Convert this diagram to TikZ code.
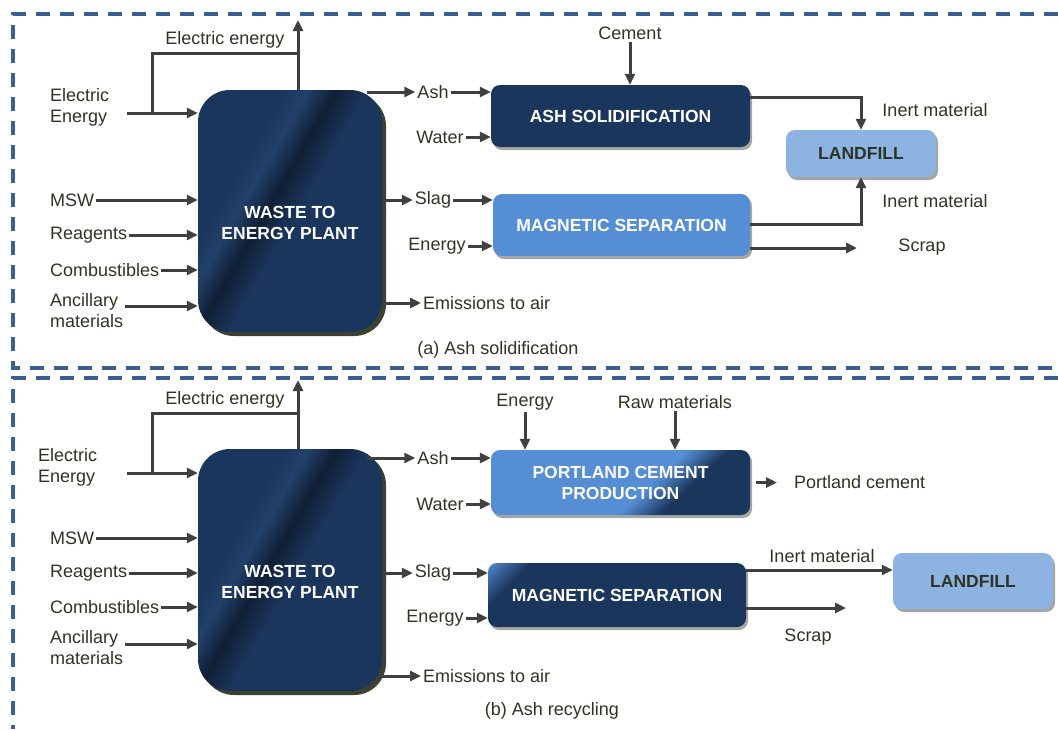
\documentclass[tikz,border=0pt]{standalone}
\usepackage{fontspec}
\setmainfont{Liberation Sans}
\usetikzlibrary{positioning}
\usetikzlibrary{arrows.meta}
\usetikzlibrary{shadows}

\definecolor{navy}{RGB}{27,54,93}
\definecolor{navydeep}{RGB}{16,31,54}
\definecolor{navylite}{RGB}{34,64,106}
\definecolor{midblue}{RGB}{85,142,213}
\definecolor{paleblue}{RGB}{141,179,226}
\definecolor{inktext}{RGB}{45,52,36}
\definecolor{inkline}{RGB}{64,64,64}
\definecolor{panelblue}{RGB}{60,95,145}
\definecolor{shadowolive}{RGB}{40,44,25}

\pgfdeclarehorizontalshading{wtesheen}{100bp}{color(0bp)=(navy); color(34bp)=(navy); color(39bp)=(navylite); color(45bp)=(navydeep); color(52bp)=(navy); color(100bp)=(navy)}
\pgfdeclarehorizontalshading{portsheen}{100bp}{color(0bp)=(midblue); color(57bp)=(midblue); color(66bp)=(navy); color(100bp)=(navy)}
\pgfdeclarehorizontalshading{magsheen}{100bp}{color(0bp)=(midblue); color(14bp)=(midblue); color(24bp)=(navy); color(100bp)=(navy)}

\begin{document}
\begin{tikzpicture}[
            x = 1pt, y = -1pt, % pixel grid, y downwards
            > = {Triangle[length=11pt,width=10pt]}, % arrow head style
            font = \fontsize{18}{21}\selectfont,
            text = inktext
        ]

        \tikzstyle{txt}=[inner sep=2pt, align=left]
        \tikzstyle{flow}=[draw=inkline, line width=3pt, ->]
        \tikzstyle{wire}=[draw=inkline, line width=3pt]
        \tikzstyle{procbox}=[
            rounded corners=9pt,
            inner sep=0pt,
            text=white,
            align=center,
            font=\fontsize{17.5}{21}\selectfont\bfseries,
            drop shadow={shadow xshift=2pt, shadow yshift=-3pt, fill=black, opacity=0.35}
        ]
        \tikzstyle{plant}=[
            rounded corners=32pt,
            inner sep=0pt,
            text=white,
            align=center,
            font=\fontsize{17.5}{21}\selectfont\bfseries,
            text height=58pt,
            minimum width=184pt, minimum height=242pt,
            shading=wtesheen, shading angle=-30,
            drop shadow={shadow xshift=4pt, shadow yshift=-4pt, fill=shadowolive, opacity=0.9}
        ]
        \tikzstyle{panel}=[draw=panelblue, line width=4pt, dash pattern=on 14pt off 10pt]

        \useasboundingbox (0,0) rectangle (1058,729);

	% panel frames
        \draw[panel] (1058,14) -- (13,14) -- (13,368) -- (1058,368);
        \draw[panel] (1058,378) -- (13,378) -- (13,729);

	% (a) ash solidification: units
        \node[plant] (wteA) at (290,211) {WASTE TO\\ENERGY PLANT};
        \node[procbox, fill=navy, minimum width=259pt, minimum height=62pt] (solA) at (620.5,116) {ASH SOLIDIFICATION};
        \node[procbox, fill=midblue, minimum width=257pt, minimum height=62pt] (magA) at (621.5,225) {MAGNETIC SEPARATION};
        \node[procbox, fill=paleblue, text=inktext, minimum width=150pt, minimum height=47pt] (fillA) at (861,153.5) {LANDFILL};

	% (a) inputs
        \node[txt] (elecA) [anchor=west] at (48,107) {Electric\\Energy};
        \node[txt] (mswA) [anchor=west] at (48,200) {MSW};
        \node[txt] (reagA) [anchor=west] at (48,235) {Reagents};
        \node[txt] (combA) [anchor=west] at (48,270) {Combustibles};
        \node[txt] (ancA) [anchor=west] at (48,311) {Ancillary\\materials};

        \coordinate (jA) at (152,113);
        \coordinate (kA) at (298,53);
        \coordinate (eoA) at (298,20);
        \draw[flow] ([xshift=-25pt]jA) -- (jA -| wteA.west);
        \draw[wire] (jA) |- (kA);
        \draw[flow] (kA |- wteA.north) -- (eoA);
        \node[txt] (outA) at (225,40) {Electric energy};

        \draw[flow] (mswA.east) -- (mswA.east -| wteA.west);
        \draw[flow] (reagA.east) -- (reagA.east -| wteA.west);
        \draw[flow] (combA.east) -- (combA.east -| wteA.west);
        \draw[flow] ([yshift=5pt]ancA.east) -- ([yshift=5pt]ancA.east -| wteA.west);

	% (a) outputs
        \node[txt] (ashA) at (433,92) {Ash};
        \node[txt] (waterA) at (440,137) {Water};
        \node[txt] (slagA) at (433,200) {Slag};
        \node[txt] (enA) at (437,246) {Energy};
        \node[txt] (emisA) [anchor=west] at (421,303) {Emissions to air};
        \node[txt] (cemA) at (630,33) {Cement};

        \draw[flow] ([xshift=-15pt]wteA.east |- ashA.west) -- (ashA.west);
        \draw[flow] (ashA.east) -- (ashA.east -| solA.west);
        \draw[flow] (waterA.east) -- (waterA.east -| solA.west);
        \draw[flow] (wteA.east |- slagA.west) -- (slagA.west);
        \draw[flow] (slagA.east) -- (slagA.east -| magA.west);
        \draw[flow] (enA.east) -- (enA.east -| magA.west);
        \draw[flow] (wteA.east |- emisA.west) -- (emisA.west);
        \draw[flow] (cemA.south) -- (cemA.south |- solA.north);

        \node[txt] (inA1) at (935,110) {Inert material};
        \node[txt] (inA2) at (935,201) {Inert material};
        \node[txt] (scrapA) at (922,247) {Scrap};
        \coordinate (scrapendA) at (857,248);

        \draw[flow] ([yshift=19pt]solA.east) -| (fillA.north);
        \draw[flow] ([yshift=1pt]magA.east) -| (fillA.south);
        \draw[flow] (magA.east |- scrapendA) -- (scrapendA);

        \node (capA) at (498,350) {(a) Ash solidification};

	% (b) ash recycling: units
        \node[plant] (wteB) at (290,570) {WASTE TO\\ENERGY PLANT};
        \node[procbox, shading=portsheen, shading angle=-47, minimum width=259pt, minimum height=65pt] (portB) at (620.5,482.5) {PORTLAND CEMENT\\PRODUCTION};
        \node[procbox, shading=magsheen, shading angle=-45, minimum width=258pt, minimum height=64pt] (magB) at (617,595) {MAGNETIC SEPARATION};
        \node[procbox, fill=paleblue, text=inktext, minimum width=160pt, minimum height=56pt] (fillB) at (973,581) {LANDFILL};

	% (b) inputs
        \node[txt] (elecB) [anchor=west] at (36,467) {Electric\\Energy};
        \node[txt] (mswB) [anchor=west] at (48,538) {MSW};
        \node[txt] (reagB) [anchor=west] at (48,573) {Reagents};
        \node[txt] (combB) [anchor=west] at (48,607) {Combustibles};
        \node[txt] (ancB) [anchor=west] at (48,648) {Ancillary\\materials};

        \coordinate (jB) at (152,473);
        \coordinate (kB) at (298,413);
        \coordinate (eoB) at (298,380);
        \draw[flow] ([xshift=-25pt]jB) -- (jB -| wteB.west);
        \draw[wire] (jB) |- (kB);
        \draw[flow] (kB |- wteB.north) -- (eoB);
        \node[txt] (outB) at (225,400) {Electric energy};

        \draw[flow] (mswB.east) -- (mswB.east -| wteB.west);
        \draw[flow] (reagB.east) -- (reagB.east -| wteB.west);
        \draw[flow] (combB.east) -- (combB.east -| wteB.west);
        \draw[flow] ([yshift=4pt]ancB.east) -- ([yshift=4pt]ancB.east -| wteB.west);

	% (b) outputs
        \node[txt] (ashB) at (433,458) {Ash};
        \node[txt] (waterB) at (440,504) {Water};
        \node[txt] (slagB) at (433,573) {Slag};
        \node[txt] (enB) at (435,618) {Energy};
        \node[txt] (emisB) [anchor=west] at (421,676) {Emissions to air};
        \node[txt] (enP) at (525,402) {Energy};
        \node[txt] (rawP) at (675,402) {Raw materials};

        \draw[flow] ([xshift=-15pt]wteB.east |- ashB.west) -- (ashB.west);
        \draw[flow] (ashB.east) -- (ashB.east -| portB.west);
        \draw[flow] (waterB.east) -- (waterB.east -| portB.west);
        \draw[flow] (wteB.east |- slagB.west) -- (slagB.west);
        \draw[flow] (slagB.east) -- (slagB.east -| magB.west);
        \draw[flow] (enB.east) -- (enB.east -| magB.west);
        \draw[flow] ([xshift=-4pt]wteB.east |- emisB.west) -- (emisB.west);
        \draw[flow] (enP.south) -- (enP.south |- portB.north);
        \draw[flow] (rawP.south) -- (rawP.south |- portB.north);

        \node[txt] (pcB) [anchor=west] at (792,482) {Portland cement};
        \draw[flow] ([xshift=6pt]portB.east) -- ([xshift=-15pt]pcB.west |- portB.east);

        \node[txt] (inB) at (822,556) {Inert material};
        \node[txt] (scrapB) at (808,637) {Scrap};
        \coordinate (scrapendB) at (846,608);
        \draw[flow] ([yshift=25pt]magB.east) -- ([yshift=11pt]fillB.west);
        \draw[flow] (magB.east |- scrapendB) -- (scrapendB);

        \node (capB) at (552,711) {(b) Ash recycling};

\end{tikzpicture}
\end{document}
